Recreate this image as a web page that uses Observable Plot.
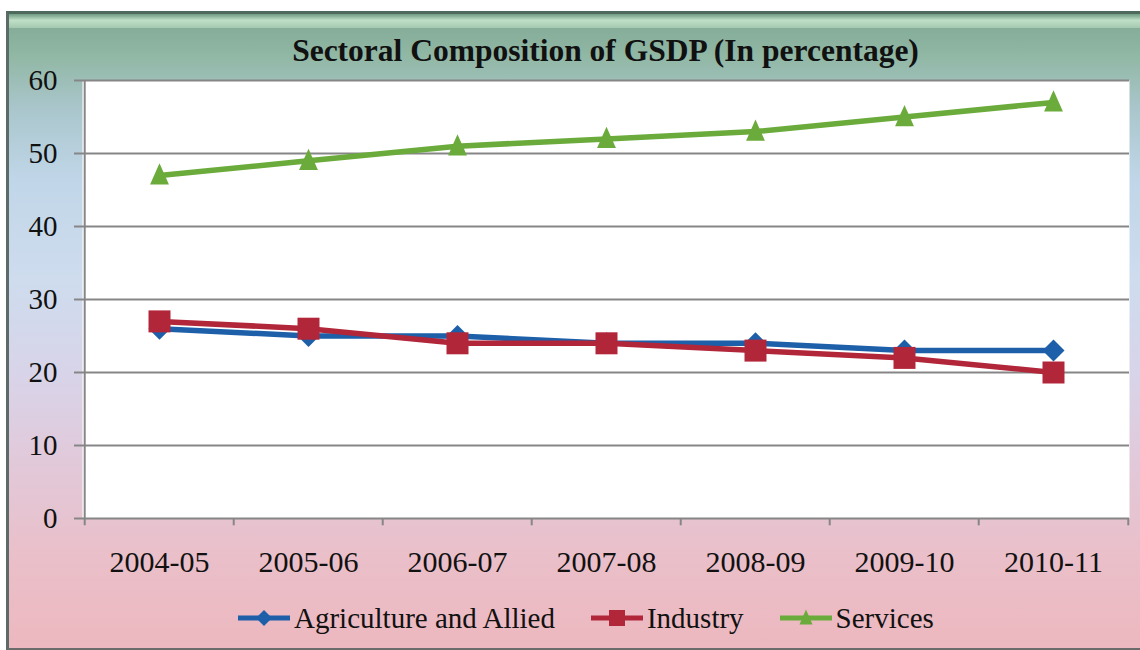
<!DOCTYPE html>
<html>
<head>
<meta charset="utf-8">
<script src="https://cdn.jsdelivr.net/npm/d3@7"></script>
<script src="https://cdn.jsdelivr.net/npm/@observablehq/plot@0.6"></script>
<style>
  html, body { margin: 0; padding: 0; background: #fff; width: 1140px; height: 650px; overflow: hidden; }
  #bg {
    position: absolute; left: 6px; top: 11px; width: 1134px; height: 634px;
    border-left: 3px solid #5d6b68; border-top: 3px solid #4d6a5c; border-bottom: 3px solid #6b6b6b;
    background: linear-gradient(180deg, #7fa893 0%, #92b8a6 7%, #aac6cc 15%, #c0d6e8 26%, #cedcee 42%, #d9d3e8 58%, #e2c8d8 72%, #eabfc9 86%, #edb8bf 100%);
  }
  #hl {
    position: absolute; left: 0; top: 0; right: 0; height: 14px;
    background: linear-gradient(180deg, #6f9a82 0%, #bfe0c6 45%, #a4c8b0 100%);
  }
  #title {
    position: absolute; left: 82px; width: 1047px; top: 35px; text-align: center;
    font-family: 'Liberation Serif', 'Times New Roman', serif; font-weight: bold; font-size: 31.5px; line-height: 31.5px; color: #111;
  }
  #chart { position: absolute; left: 0; top: 60px; }
  #legend {
    position: absolute; left: 236px; top: 601px; display: flex; align-items: center;
    font-family: 'Liberation Serif', 'Times New Roman', serif; font-size: 29px; line-height: 34px; color: #111; white-space: nowrap;
  }
  #legend .item { display: flex; align-items: center; margin-right: 34px; }
  #legend svg { margin-right: 2px; }
</style>
</head>
<body>
<div id="bg"><div id="hl"></div></div>
<div id="title">Sectoral Composition of GSDP (In percentage)</div>
<div id="chart"></div>
<div id="legend"></div>
<script>
const years = ["2004-05", "2005-06", "2006-07", "2007-08", "2008-09", "2009-10", "2010-11"];
const agriculture = [26, 25, 25, 24, 24, 23, 23];
const industry = [27, 26, 24, 24, 23, 22, 20];
const services = [47, 49, 51, 52, 53, 55, 57];
const seriesNames = ["Agriculture and Allied", "Industry", "Services"];
const seriesColors = ["#1d5fa9", "#b2263a", "#6aab3b"];
const yTicks = [0, 10, 20, 30, 40, 50, 60];

const diamondSym = {draw(ctx, size) { const h = Math.sqrt(size / Math.PI); ctx.moveTo(0, -h); ctx.lineTo(h, 0); ctx.lineTo(0, h); ctx.lineTo(-h, 0); ctx.closePath(); }};
const squareSym = {draw(ctx, size) { const h = Math.sqrt(size / Math.PI); ctx.rect(-h, -h, 2 * h, 2 * h); }};
const triangleSym = {draw(ctx, size) { const h = Math.sqrt(size / Math.PI); ctx.moveTo(0, -h * 1.05); ctx.lineTo(h * 0.82, h * 0.8); ctx.lineTo(-h * 0.82, h * 0.8); ctx.closePath(); }};
const symbols = [diamondSym, squareSym, triangleSym];
const radii = [11, 11, 11.5];

const valuesList = [agriculture, industry, services];
const rows = valuesList.map((vals, s) => years.map((y, i) => ({year: y, value: vals[i], series: seriesNames[s]})));

const width = 1140, height = 530, marginLeft = 82, marginRight = 11, marginTop = 20, marginBottom = 72;
const step = (width - marginLeft - marginRight) / years.length;
const gray = "#868686";

const marks = [
  Plot.frame({fill: "white", stroke: null}),
  Plot.gridY(yTicks, {stroke: gray, strokeOpacity: 1, strokeWidth: 2}),
  Plot.ruleX([years[0]], {x: d => d, dx: -step / 2, y1: -1, y2: 60, stroke: gray, strokeWidth: 2}),
  Plot.ruleX(years.slice(1), {x: d => d, dx: -step / 2, y1: 0, y2: -1, stroke: gray, strokeWidth: 2}),
  Plot.ruleX([years[years.length - 1]], {x: d => d, dx: step / 2, y1: 0, y2: -1, stroke: gray, strokeWidth: 2}),
  Plot.axisY({ticks: yTicks, tickSize: 8, tickPadding: 17, fontSize: 29, label: null, stroke: gray, strokeWidth: 2, tickFormat: d => d}),
  Plot.axisX({tickSize: 0, tickPadding: 32, fontSize: 30, label: null})
];
rows.forEach((data, s) => {
  marks.push(Plot.line(data, {x: "year", y: "value", stroke: seriesColors[s], strokeWidth: 5.5, strokeLinejoin: "round"}));
  marks.push(Plot.dot(data, {x: "year", y: "value", symbol: symbols[s], r: radii[s], fill: seriesColors[s], stroke: null}));
});

const chart = Plot.plot({
  width, height, marginLeft, marginRight, marginTop, marginBottom,
  style: {background: "transparent", fontFamily: "'Liberation Serif', 'Times New Roman', serif", color: "#111", overflow: "visible"},
  x: {type: "point", domain: years, padding: 0.5, align: 0.5},
  y: {domain: [0, 60]},
  marks
});
document.getElementById("chart").appendChild(chart);

// Legend
const legend = document.getElementById("legend");
seriesNames.forEach((name, s) => {
  const item = document.createElement("div");
  item.className = "item";
  const svg = d3.create("svg").attr("width", 56).attr("height", 24);
  svg.append("line").attr("x1", 2).attr("x2", 54).attr("y1", 12).attr("y2", 12).attr("stroke", seriesColors[s]).attr("stroke-width", 5);
  svg.append("path").attr("transform", "translate(28,12)").attr("d", d3.symbol(symbols[s], Math.PI * 64)()).attr("fill", seriesColors[s]);
  item.appendChild(svg.node());
  const span = document.createElement("span");
  span.textContent = name;
  item.appendChild(span);
  legend.appendChild(item);
});
</script>
</body>
</html>
